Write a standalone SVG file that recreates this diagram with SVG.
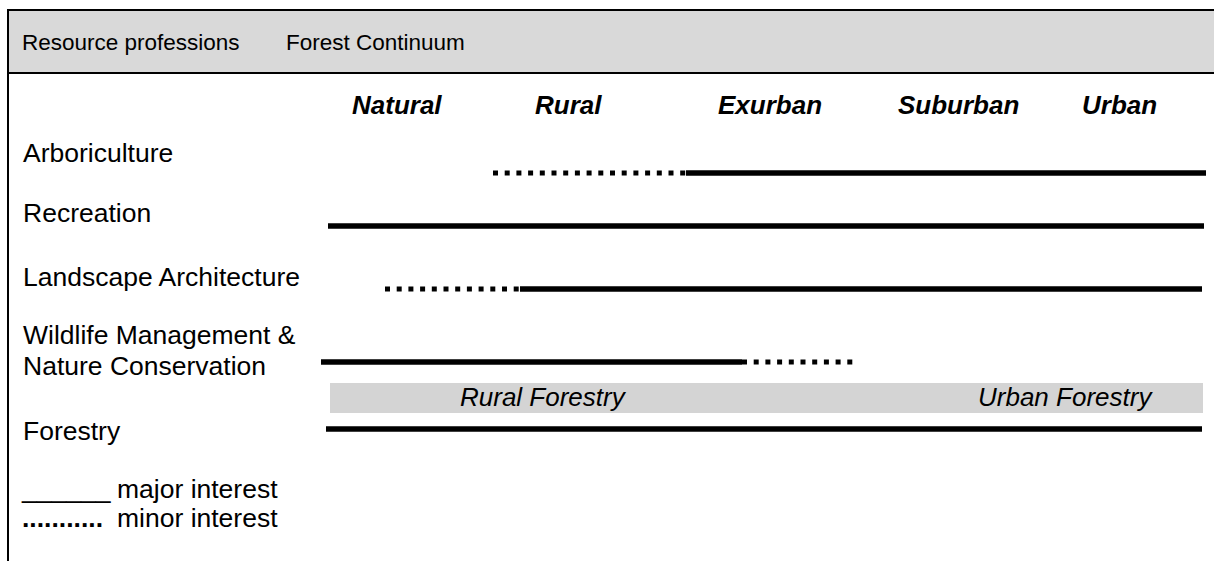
<svg xmlns="http://www.w3.org/2000/svg" width="1214" height="561" viewBox="0 0 1214 561">
  <style>
    .head { font-family: "Liberation Sans", Arial, sans-serif; font-size: 22.5px; fill: #000; }
    .lbl { font-family: "Liberation Sans", Arial, sans-serif; font-size: 26.5px; fill: #000; }
    .col { font-family: "Liberation Sans", Arial, sans-serif; font-size: 26px; font-weight: bold; font-style: italic; fill: #000; }
    .band { font-family: "Liberation Sans", Arial, sans-serif; font-size: 26px; font-style: italic; fill: #000; }
    .major { stroke: #000; stroke-width: 5.5; fill: none; }
    .minor { stroke: #000; stroke-width: 5; fill: none; stroke-dasharray: 5 6.7; }
  </style>
  <rect x="0" y="0" width="1214" height="561" fill="#fff"/>

  <!-- header strip -->
  <g id="header">
    <rect x="8" y="10" width="1210" height="63" fill="#d9d9d9"/>
    <line x1="7" y1="10" x2="1214" y2="10" stroke="#000" stroke-width="2"/>
    <line x1="7" y1="73" x2="1214" y2="73" stroke="#000" stroke-width="2"/>
    <text class="head" x="22" y="50">Resource professions</text>
    <text class="head" x="286" y="50">Forest Continuum</text>
  </g>
  <line x1="8" y1="9" x2="8" y2="561" stroke="#000" stroke-width="2"/>

  <!-- continuum columns -->
  <g id="columns">
    <text class="col" x="352" y="114">Natural</text>
    <text class="col" x="535" y="114">Rural</text>
    <text class="col" x="718" y="114">Exurban</text>
    <text class="col" x="898" y="114">Suburban</text>
    <text class="col" x="1082" y="114">Urban</text>
  </g>

  <!-- professions -->
  <g id="arboriculture"><text class="lbl" x="23" y="162">Arboriculture</text></g>
  <g id="recreation"><text class="lbl" x="23" y="222">Recreation</text></g>
  <g id="landscape"><text class="lbl" x="23" y="286">Landscape Architecture</text></g>
  <g id="wildlife">
    <text class="lbl" x="23" y="344">Wildlife Management &amp;</text>
    <text class="lbl" x="23" y="375">Nature Conservation</text>
  </g>
  <g id="forestry"><text class="lbl" x="23" y="440">Forestry</text></g>

  <!-- forestry band -->
  <g id="forestry-band">
    <rect x="330" y="383" width="873" height="30" fill="#d4d4d4"/>
    <text class="band" x="460" y="406">Rural Forestry</text>
    <text class="band" x="978" y="406">Urban Forestry</text>
  </g>

  <!-- interest ranges -->
  <g id="connectors">
    <line class="minor" x1="493" y1="173" x2="688" y2="173"/>
    <line class="major" x1="686" y1="173" x2="1206" y2="173"/>
    <line class="major" x1="328" y1="226" x2="1204" y2="226"/>
    <line class="minor" x1="385" y1="289" x2="522" y2="289"/>
    <line class="major" x1="520" y1="289" x2="1202" y2="289"/>
    <line class="major" x1="321" y1="362" x2="742" y2="362"/>
    <line class="minor" x1="742" y1="362" x2="855" y2="362"/>
    <line class="major" x1="326" y1="429" x2="1202" y2="429"/>
  </g>

  <!-- legend -->
  <g id="legend">
    <text class="lbl" x="22" y="498">______</text>
    <text class="lbl" x="117" y="498">major interest</text>
    <text class="lbl" x="22" y="527" font-weight="bold">...........</text>
    <text class="lbl" x="117" y="527">minor interest</text>
  </g>
</svg>
